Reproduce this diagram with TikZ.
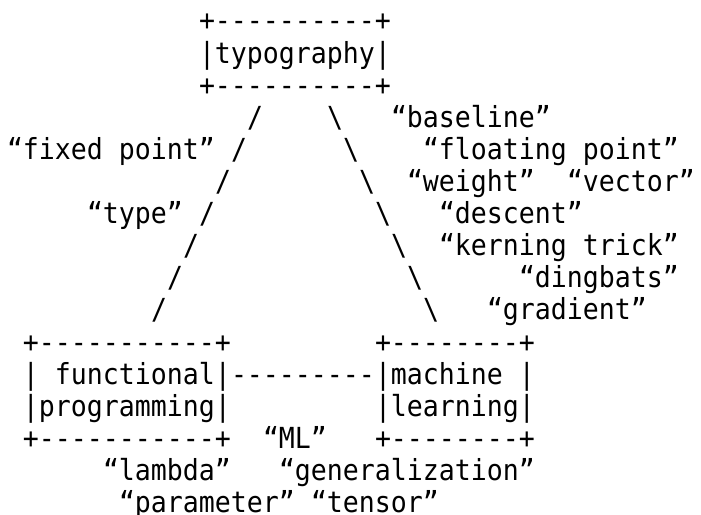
\documentclass[tikz,border=0pt]{standalone}
\usepackage{fontspec}
\newfontfamily\asciifont[FakeStretch=0.916]{DejaVu Sans Mono}
\newcommand\dashrun[1]{\foreach \d in {1,...,#1}{-\kern0pt}}
\tikzset{
  txt/.style={inner sep=0pt, outer sep=0pt, anchor=base west,
    font=\asciifont\fontsize{29pt}{32pt}\selectfont},
}

\begin{document}
\begin{tikzpicture}[x=16pt, y=-32.1pt]
\useasboundingbox (-7pt,31pt) rectangle (694pt,-483pt);
% top box
\node[txt] (typotop) at (12,0) {+\dashrun{10}+};
\node[txt] (typo) at (12,1) {|typography|};
\node[txt] (typobot) at (12,2) {+\dashrun{10}+};
% the two legs
\foreach \k in {0,...,6} {
  \node[txt] (fs\k) at (15-\k,3+\k) {/};
  \node[txt] (bs\k) at (20+\k,3+\k) {\textbackslash};
}
\node[txt] (baseline) at (24,3) {“baseline”};
\node[txt] (fixed) at (0,4) {“fixed point”};
\node[txt] (floating) at (26,4) {“floating point”};
\node[txt] (weight) at (25,5) {“weight”};
\node[txt] (vector) at (35,5) {“vector”};
\node[txt] (type) at (5,6) {“type”};
\node[txt] (descent) at (27,6) {“descent”};
\node[txt] (kerning) at (27,7) {“kerning trick”};
\node[txt] (dingbats) at (32,8) {“dingbats”};
\node[txt] (gradient) at (30,9) {“gradient”};
% bottom boxes
\node[txt] (fptop) at (1,10) {+\dashrun{11}+};
\node[txt] (mltop) at (23,10) {+\dashrun{8}+};
\node[txt] (fp1) at (1,11) {| functional|};
\node[txt] (link) at (14,11) {\dashrun{9}};
\node[txt] (ml1) at (23,11) {|machine |};
\node[txt] (fp2) at (1,12) {|programming|};
\node[txt] (ml2) at (23,12) {|learning|};
\node[txt] (fpbot) at (1,13) {+\dashrun{11}+};
\node[txt] (mlname) at (16,13) {“ML”};
\node[txt] (mlbot) at (23,13) {+\dashrun{8}+};
\node[txt] (lambda) at (6,14) {“lambda”};
\node[txt] (general) at (17,14) {“generalization”};
\node[txt] (param) at (7,15) {“parameter”};
\node[txt] (tensor) at (19,15) {“tensor”};
\end{tikzpicture}
\end{document}
